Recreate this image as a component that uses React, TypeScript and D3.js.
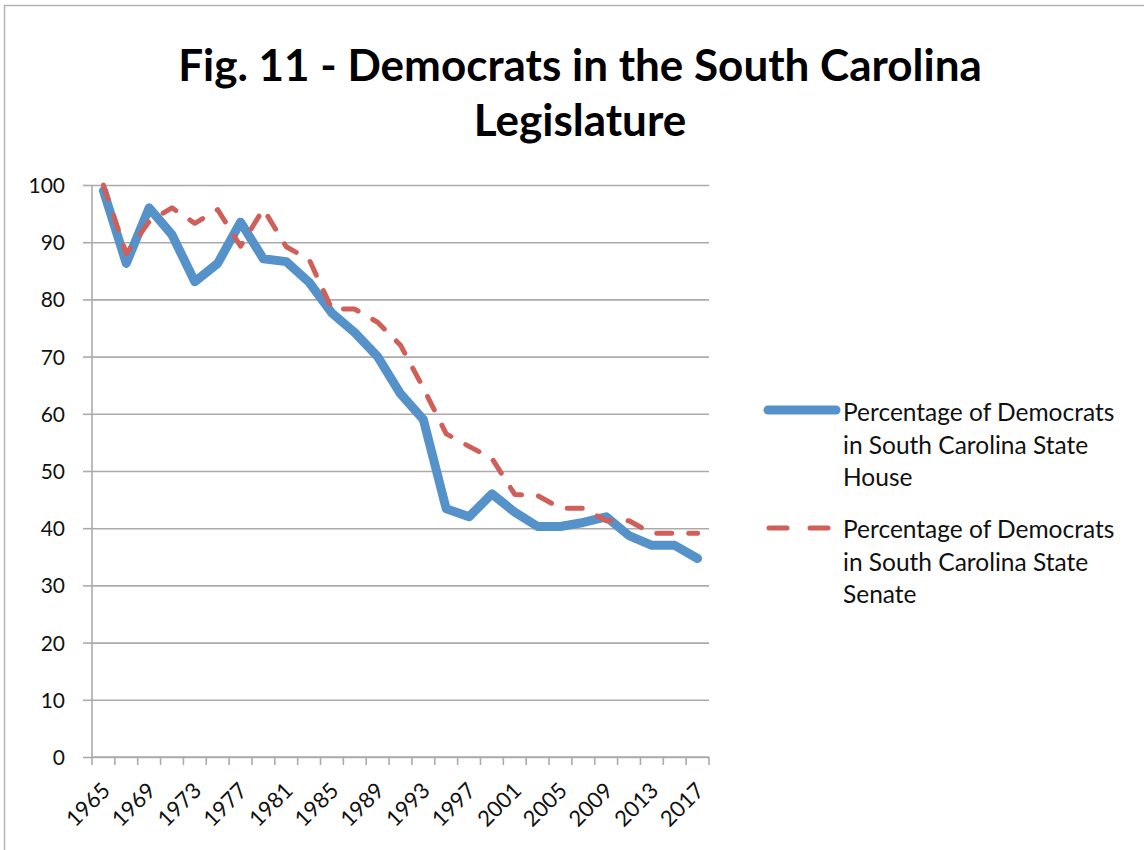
import { useEffect, useRef } from 'react';
import * as d3 from 'd3';

const years = [
  '1965', '1967', '1969', '1971', '1973', '1975', '1977', '1979', '1981',
  '1983', '1985', '1987', '1989', '1991', '1993', '1995', '1997', '1999',
  '2001', '2003', '2005', '2007', '2009', '2011', '2013', '2015', '2017',
];

// percentage of Democrats
const houseValues = [
  99, 86.3, 96, 91.3, 83.1, 86.3, 93.5, 87.1, 86.6, 83, 77.6, 74.2, 70, 63.5,
  59, 43.4, 42, 46, 42.8, 40.3, 40.3, 41, 42, 38.7, 37, 37, 34.7,
];
const senateValues = [
  100, 88, 93.6, 96, 93.3, 95.7, 89.3, 95.8, 89.2, 87, 78.3, 78.3, 76, 72,
  64.5, 56.5, 54.3, 52.2, 45.9, 45.7, 43.5, 43.5, 41.3, 41.3, 39.1, 39.1, 39.1,
];

const yTicks = [0, 10, 20, 30, 40, 50, 60, 70, 80, 90, 100];
const xLabelYears = ['1965', '1969', '1973', '1977', '1981', '1985', '1989', '1993', '1997', '2001', '2005', '2009', '2013', '2017'];

const titleLines = ['Fig. 11 - Democrats in the South Carolina', 'Legislature'];
const houseLegend = ['Percentage of Democrats', 'in South Carolina State', 'House'];
const senateLegend = ['Percentage of Democrats', 'in South Carolina State', 'Senate'];

const FONT = 'Lato, "Open Sans", sans-serif';
const BLUE = '#5592c9';
const RED = '#cf5f58';
const GRID = '#ababab';

export default function App() {
  const ref = useRef<SVGSVGElement>(null);

  useEffect(() => {
    if (!ref.current) return;
    const svg = d3.select(ref.current);
    svg.selectAll('*').remove();

    const W = 1144;
    const H = 850;
    const plot = { left: 92, right: 709, top: 185, bottom: 757 };

    svg.append('rect').attr('width', W).attr('height', H).attr('fill', '#fff');

    // frame of the chart area (cropped on right/bottom)
    svg
      .append('path')
      .attr('d', `M4.5,${H} V5.5 H${W}`)
      .attr('fill', 'none')
      .attr('stroke', '#b4b4b4')
      .attr('stroke-width', 1.5);

    // title
    svg
      .append('g')
      .selectAll('text')
      .data(titleLines)
      .enter()
      .append('text')
      .attr('x', 580)
      .attr('y', (_, i) => 81 + i * 55)
      .attr('text-anchor', 'middle')
      .style('font-family', FONT)
      .style('font-weight', 700)
      .style('font-size', '44px')
      .attr('fill', '#000')
      .text((d) => d);

    const x = d3.scaleBand().domain(years).range([plot.left, plot.right]);
    const y = d3.scaleLinear().domain([0, 100]).range([plot.bottom, plot.top]);
    const cx = (d: string) => (x(d) || 0) + x.bandwidth() / 2;

    // gridlines + y axis
    const yAxis = svg
      .append('g')
      .attr('transform', `translate(${plot.left},0)`)
      .call(
        d3
          .axisLeft(y)
          .tickValues(yTicks)
          .tickSize(-(plot.right - plot.left))
          .tickPadding(27)
          .tickFormat((d) => `${d}`)
      );
    yAxis.select('.domain').remove();
    yAxis.selectAll('.tick line').attr('stroke', GRID).attr('stroke-width', 1.6);
    yAxis
      .selectAll('.tick')
      .append('line')
      .attr('x1', -9)
      .attr('x2', 0)
      .attr('stroke', GRID)
      .attr('stroke-width', 1.6);
    yAxis
      .selectAll('.tick text')
      .attr('fill', '#111')
      .attr('dy', '0.36em')
      .style('font-family', FONT)
      .style('font-size', '21px');

    svg
      .append('line')
      .attr('x1', plot.left)
      .attr('x2', plot.left)
      .attr('y1', plot.top)
      .attr('y2', plot.bottom)
      .attr('stroke', GRID)
      .attr('stroke-width', 1.6);

    // x axis: ticks between categories
    const xAxis = svg.append('g');
    xAxis
      .append('line')
      .attr('x1', plot.left)
      .attr('x2', plot.right)
      .attr('y1', plot.bottom)
      .attr('y2', plot.bottom)
      .attr('stroke', GRID)
      .attr('stroke-width', 1.6);
    const tickXs = years.map((d) => x(d) || 0).concat([plot.right]);
    xAxis
      .selectAll('.xt')
      .data(tickXs)
      .enter()
      .append('line')
      .attr('x1', (d) => d)
      .attr('x2', (d) => d)
      .attr('y1', plot.bottom)
      .attr('y2', plot.bottom + 8)
      .attr('stroke', GRID)
      .attr('stroke-width', 1.6);
    xAxis
      .selectAll('.xl')
      .data(xLabelYears)
      .enter()
      .append('text')
      .attr('text-anchor', 'end')
      .attr('transform', (d) => `translate(${cx(d) + 8},${plot.bottom + 35}) rotate(-45)`)
      .style('font-family', FONT)
      .style('font-size', '22px')
      .attr('fill', '#111')
      .text((d) => d);

    // series
    const line = d3
      .line<number>()
      .x((_, i) => cx(years[i]))
      .y((d) => y(d));

    svg
      .append('path')
      .datum(houseValues)
      .attr('fill', 'none')
      .attr('stroke', BLUE)
      .attr('stroke-width', 9)
      .attr('stroke-linejoin', 'round')
      .attr('stroke-linecap', 'round')
      .attr('d', line);

    svg
      .append('path')
      .datum(senateValues)
      .attr('fill', 'none')
      .attr('stroke', RED)
      .attr('stroke-width', 5)
      .attr('stroke-linejoin', 'round')
      .attr('stroke-linecap', 'round')
      .attr('stroke-dasharray', '15,17')
      .attr('d', line);

    // legend
    const legend = svg.append('g');
    legend
      .append('line')
      .attr('x1', 768)
      .attr('x2', 836)
      .attr('y1', 410)
      .attr('y2', 410)
      .attr('stroke', BLUE)
      .attr('stroke-width', 9)
      .attr('stroke-linecap', 'round');
    legend
      .append('line')
      .attr('x1', 769)
      .attr('x2', 833)
      .attr('y1', 528)
      .attr('y2', 528)
      .attr('stroke', RED)
      .attr('stroke-width', 5)
      .attr('stroke-linecap', 'round')
      .attr('stroke-dasharray', '18,23');

    const addLines = (lines: string[], y0: number) => {
      legend
        .append('g')
        .selectAll('text')
        .data(lines)
        .enter()
        .append('text')
        .attr('x', 843)
        .attr('y', (_, i) => y0 + i * 32.5)
        .style('font-family', FONT)
        .style('font-size', '24.5px')
        .attr('fill', '#111')
        .text((d) => d);
    };
    addLines(houseLegend, 421);
    addLines(senateLegend, 538);
  }, []);

  return (
    <svg
      ref={ref}
      width={1144}
      height={850}
      style={{ position: 'absolute', left: 0, top: 0, display: 'block' }}
    />
  );
}
